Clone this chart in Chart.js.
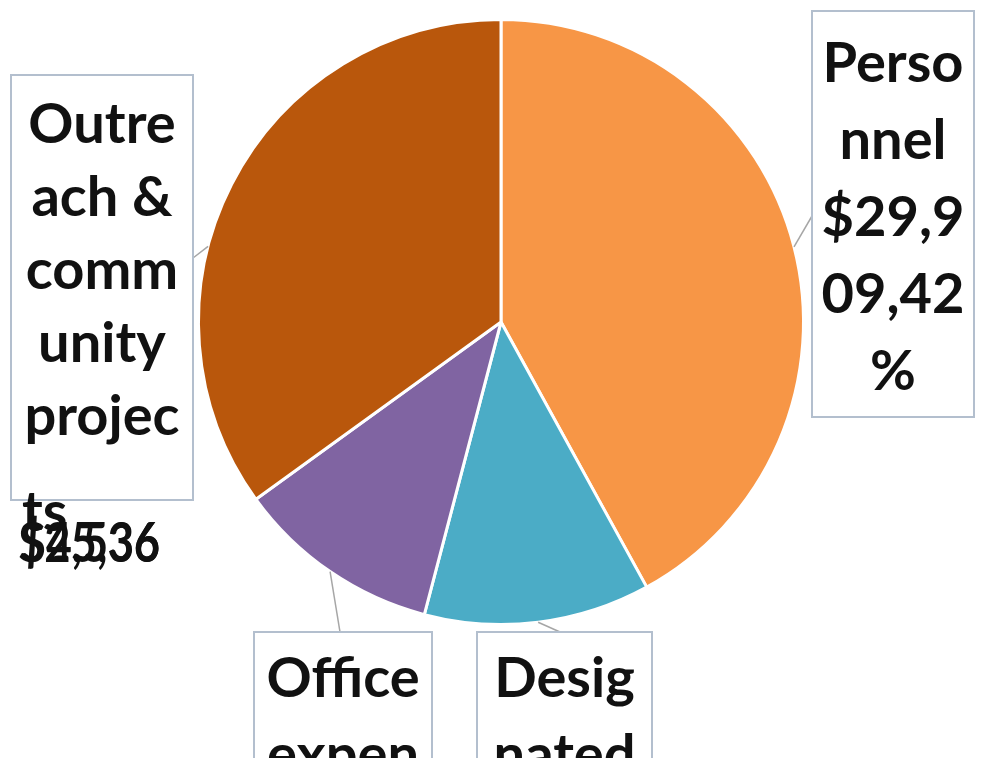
<!DOCTYPE html>
<html>
<head>
<meta charset="utf-8">
<script src="https://cdn.jsdelivr.net/npm/chart.js@4.4.1/dist/chart.umd.min.js"></script>
<style>
  html, body { margin: 0; padding: 0; background: #ffffff; }
  canvas { display: block; }
</style>
</head>
<body>
<canvas id="myChart" width="981" height="758"></canvas>
<script>
// budget categories and amounts ($)
const categories = ['Personnel', 'Designated', 'Office expenses', 'Outreach & community projects'];
const amounts = [29909, 8600, 7800, 24900];
const sliceColors = ['#F79646', '#4BACC6', '#8064A2', '#B9570C'];

// label text, wrapped the way the original boxes wrap it
const labelLines = [
    ['Perso', 'nnel', '$29,9', '09,42', '%'],
    ['Desig', 'nated'],
    ['Office', 'expen'],
    ['Outre', 'ach &', 'comm', 'unity', 'projec']
];

document.addEventListener("DOMContentLoaded", function () {

    // label boxes: box rect, first baseline, where the leader leaves the box, and where on the slice it lands (0..1)
    const boxes = [
        { x: 812, y: 11, w: 162, h: 406, base: 82, step: 77, ax: 812, ay: 216, t: 0.5 },
        { x: 477, y: 632, w: 175, h: 200, base: 697, step: 77, ax: 560, ay: 632, t: 0.5 },
        { x: 254, y: 632, w: 178, h: 200, base: 697, step: 77, ax: 340, ay: 632, t: 0.5 },
        { x: 11, y: 75, w: 182, h: 425, base: 143, step: 73, ax: 193, ay: 258, t: 0.4 }
    ];

    const labelPlugin = {
        id: 'boxLabels',
        afterDraw(chart) {
            const ctx = chart.ctx;
            const arcs = chart.getDatasetMeta(0).data;
            ctx.save();

            // leader lines
            ctx.strokeStyle = '#A6A6A6';
            ctx.lineWidth = 1.5;
            boxes.forEach((b, i) => {
                const arc = arcs[i];
                const a = arc.startAngle + (arc.endAngle - arc.startAngle) * b.t;
                const px = arc.x + Math.cos(a) * arc.outerRadius;
                const py = arc.y + Math.sin(a) * arc.outerRadius;
                ctx.beginPath();
                ctx.moveTo(px, py);
                ctx.lineTo(b.ax, b.ay);
                ctx.stroke();
            });

            // boxes
            boxes.forEach(b => {
                ctx.fillStyle = '#ffffff';
                ctx.fillRect(b.x, b.y, b.w, b.h);
                ctx.strokeStyle = '#B3BFCE';
                ctx.lineWidth = 2;
                ctx.strokeRect(b.x, b.y, b.w, b.h);
            });

            // text
            ctx.fillStyle = '#111111';
            ctx.font = 'bold 56px Lato';
            ctx.textAlign = 'center';
            ctx.textBaseline = 'alphabetic';
            boxes.forEach((b, i) => {
                labelLines[i].forEach((line, j) => {
                    ctx.fillText(line, b.x + b.w / 2, b.base + j * b.step);
                });
            });

            // overflow of the outreach label spills out under its box
            ctx.textAlign = 'left';
            ctx.fillText('ts', 22, 531);
            ctx.fillText('$25,36', 18, 562, 142);
            ctx.fillText('$4,536', 20, 562, 140);
            ctx.restore();
        }
    };

    function drawChart() {
        const ctx = document.getElementById('myChart').getContext('2d');
        new Chart(ctx, {
            type: 'pie',
            data: {
                labels: categories,
                datasets: [{
                    data: amounts,
                    backgroundColor: sliceColors,
                    borderColor: '#ffffff',
                    borderWidth: 3
                }]
            },
            options: {
                responsive: false,
                animation: false,
                layout: {
                    padding: { left: 197, right: 176, top: 18, bottom: 132 }
                },
                plugins: {
                    legend: { display: false },
                    tooltip: { enabled: false }
                }
            },
            plugins: [labelPlugin]
        });
    } drawChart();
});
</script>
</body>
</html>
